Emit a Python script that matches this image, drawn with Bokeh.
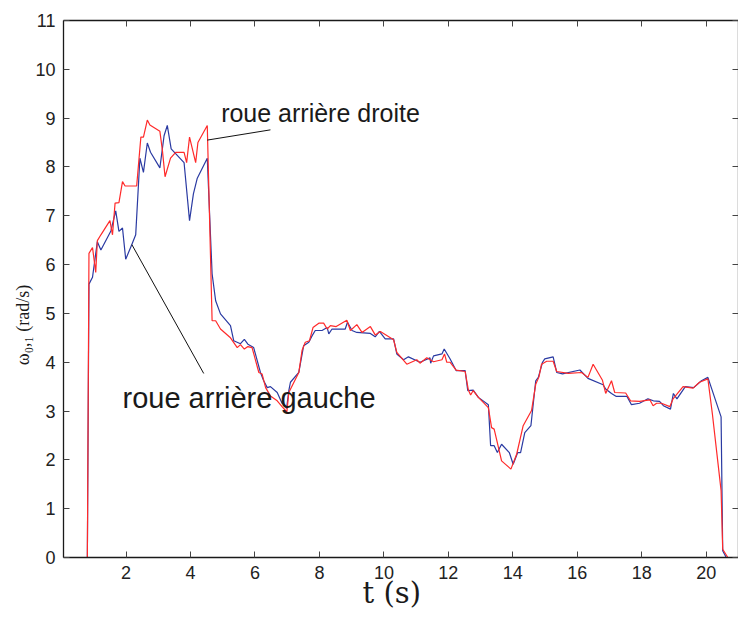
from bokeh.plotting import figure
from bokeh.models import Range1d, LinearAxis, FixedTicker, Label, ColumnDataSource, CustomJSTickFormatter
from bokeh.embed import file_html
from bokeh.resources import INLINE

# ---------------- data ----------------
t_left = [0.06, 0.80, 0.85, 0.96, 1.11, 1.22, 1.53, 1.68, 1.78, 1.89, 1.99, 2.18, 2.30, 2.43, 2.54,
          2.66, 2.76, 3.05, 3.18, 3.28, 3.40, 3.80, 3.97, 4.09, 4.21, 4.52, 4.67, 4.78, 4.93, 5.24,
          5.34, 5.55, 5.67, 5.78, 5.96, 6.17, 6.27, 6.38, 6.48, 6.69, 6.84, 6.92, 6.98, 7.05, 7.10,
          7.36, 7.51, 7.67, 7.77, 7.87, 8.08, 8.24, 8.29, 8.39, 8.80, 8.87, 9.01, 9.16, 9.58, 9.73,
          9.86, 10.04, 10.30, 10.40, 10.61, 10.76, 11.12, 11.43, 11.45, 11.54, 11.80, 11.87, 12.05,
          12.24, 12.52, 12.60, 12.77, 12.93, 13.24, 13.31, 13.42, 13.52, 13.65, 13.89, 14.01, 14.15,
          14.24, 14.37, 14.56, 14.71, 14.79, 14.92, 14.99, 15.25, 15.36, 15.54, 16.08, 16.33, 16.80,
          16.88, 17.06, 17.21, 17.54, 17.68, 17.93, 18.19, 18.36, 18.55, 18.67, 18.89, 18.98, 19.09,
          19.35, 19.61, 19.85, 20.05, 20.46, 20.51, 20.62, 21.0]
w_left = [0, 0, 5.60, 5.74, 6.47, 6.30, 6.69, 7.10, 6.68, 6.75, 6.11, 6.41, 6.61, 8.18, 7.89,
          8.49, 8.30, 7.98, 8.64, 8.85, 8.37, 8.09, 6.90, 7.45, 7.77, 8.18, 5.81, 5.26, 4.99, 4.75,
          4.44, 4.38, 4.47, 4.37, 4.30, 3.79, 3.62, 3.48, 3.50, 3.38, 3.16, 3.13, 3.05, 3.42, 3.59,
          3.79, 4.34, 4.41, 4.54, 4.65, 4.65, 4.71, 4.58, 4.68, 4.68, 4.82, 4.65, 4.61, 4.59, 4.52,
          4.63, 4.48, 4.48, 4.17, 4.05, 4.11, 4.00, 4.09, 3.98, 4.13, 4.17, 4.27, 4.07,
          3.83, 3.83, 3.42, 3.43, 3.28, 3.13, 2.29, 2.29, 2.15, 2.32, 2.15, 1.91, 2.15,
          2.15, 2.56, 2.70, 3.62, 3.69, 4.00, 4.07, 4.11, 3.79, 3.76, 3.84, 3.67, 3.54,
          3.45, 3.36, 3.30, 3.30, 3.13, 3.16, 3.25, 3.21, 3.20, 3.11, 3.04, 3.36, 3.25,
          3.50, 3.48, 3.62, 3.69, 2.88, 0.14, 0, 0]

t_right = [0.06, 0.80, 0.85, 0.96, 1.06, 1.11, 1.22, 1.50, 1.58, 1.66, 1.78, 1.89, 1.97, 2.33, 2.46,
           2.54, 2.66, 2.74, 3.05, 3.13, 3.21, 3.38, 3.54, 3.80, 3.88, 3.97, 4.16, 4.23, 4.52, 4.67,
           4.78, 4.93, 5.24, 5.45, 5.55, 5.67, 5.78, 5.91, 6.12, 6.22, 6.33, 6.48, 6.69, 6.84, 6.99,
           7.05, 7.36, 7.46, 7.56, 7.69, 7.80, 7.98, 8.13, 8.24, 8.34, 8.52, 8.85, 8.96, 9.16, 9.32,
           9.58, 9.73, 9.89, 10.30, 10.40, 10.71, 11.02, 11.12, 11.33, 11.54, 11.80, 11.88, 11.95,
           12.05, 12.24, 12.52, 12.62, 12.69, 12.77, 12.93, 13.24, 13.34, 13.42, 13.65, 13.94, 14.12,
           14.32, 14.58, 14.71, 14.81, 14.89, 15.05, 15.25, 15.36, 15.72, 16.13, 16.33, 16.49, 16.78,
           16.88, 17.06, 17.16, 17.50, 17.65, 17.93, 18.25, 18.35, 18.46, 18.61, 18.87, 18.97, 19.28,
           19.59, 19.79, 20.05, 20.19, 20.46, 20.51, 20.67, 21.0]
w_right = [0, 0, 6.23, 6.35, 5.84, 6.49, 6.61, 6.90, 6.61, 7.26, 7.27, 7.70, 7.61, 7.61, 8.61,
           8.61, 8.96, 8.86, 8.73, 8.33, 7.80, 8.18, 8.30, 8.30, 8.09, 8.61, 8.09, 8.50, 8.85, 4.85,
           4.85, 4.68, 4.50, 4.30, 4.36, 4.27, 4.32, 4.30, 3.79, 3.76, 3.48, 3.31, 3.21, 3.09, 2.98,
           3.38, 3.79, 4.24, 4.41, 4.44, 4.71, 4.80, 4.80, 4.68, 4.75, 4.73, 4.86, 4.65, 4.77, 4.61,
           4.73, 4.56, 4.63, 4.46, 4.20, 3.96, 4.05, 3.98, 4.09, 4.01, 4.05, 4.17, 4.00,
           4.00, 3.84, 3.81, 3.43, 3.33, 3.42, 3.28, 3.07, 2.66, 2.63, 1.98, 1.81, 2.12,
           2.70, 3.01, 3.55, 3.70, 3.96, 4.02, 4.02, 3.81, 3.77, 3.79, 3.69, 3.96, 3.63,
           3.36, 3.62, 3.38, 3.37, 3.21, 3.20, 3.23, 3.11, 3.16, 3.16, 3.09, 3.25, 3.50,
           3.47, 3.59, 3.66, 2.94, 1.37, 0.17, 0, 0]

x_ticks = [2, 4, 6, 8, 10, 12, 14, 16, 18, 20]
y_ticks = [0, 1, 2, 3, 4, 5, 6, 7, 8, 9, 10, 11]

label_left = "roue arrière gauche"
label_right = "roue arrière droite"
x_label = "t (s)"
y_label = "ω₀,₁ (rad/s)"

# annotation pointer lines (from curve to text)
ann_left = dict(x0=2.18, y0=6.41, x1=4.41, y1=3.77)
ann_right = dict(x0=4.52, y0=8.55, x1=6.48, y1=8.76)

NBSP = "\u00a0"

# ---------------- figure ----------------
p = figure(width=738, height=618, output_backend="svg", toolbar_location=None,
           x_range=Range1d(0.06, 21.0), y_range=Range1d(0, 11),
           min_border_left=63, min_border_right=0, min_border_top=20, min_border_bottom=61,
           x_axis_location=None, y_axis_location=None)
p.grid.visible = False
p.outline_line_color = None
p.background_fill_color = "white"
p.border_fill_color = "white"

tick_font = "Liberation Sans"
axis_col = "#1a1a1a"

def style_axis(ax, show_labels):
    ax.axis_line_color = axis_col
    ax.axis_line_width = 1.3
    ax.major_tick_in = 6
    ax.major_tick_out = 0
    ax.minor_tick_in = 0
    ax.minor_tick_out = 0
    ax.major_tick_line_color = "#444444"
    ax.major_tick_line_width = 1
    if show_labels:
        ax.major_label_text_font = tick_font
        ax.major_label_text_font_size = "18px"
        ax.major_label_text_color = "#222222"
        ax.major_label_standoff = 8
    else:
        ax.formatter = CustomJSTickFormatter(code="return ''")
        ax.major_label_text_font_size = "0px"
        ax.major_label_standoff = 0

xb = LinearAxis(ticker=FixedTicker(ticks=x_ticks))
style_axis(xb, True)
xb.axis_label = x_label + NBSP * 2
xb.axis_label_text_font = "DejaVu Serif"
xb.axis_label_text_font_style = "normal"
xb.axis_label_text_font_size = "29px"
xb.axis_label_text_color = "#1a1a1a"
xb.axis_label_standoff = -6
p.add_layout(xb, "below")

yl = LinearAxis(ticker=FixedTicker(ticks=y_ticks))
style_axis(yl, True)
p.add_layout(yl, "left")

# secondary left axis carrying only the y title
ylab = LinearAxis(ticker=FixedTicker(ticks=[]))
ylab.axis_line_color = None
ylab.major_tick_in = 0
ylab.major_tick_out = 0
ylab.minor_tick_in = 0
ylab.minor_tick_out = 0
ylab.major_label_standoff = 0
ylab.formatter = CustomJSTickFormatter(code="return ''")
ylab.axis_label = y_label + NBSP * 16
ylab.axis_label_text_font = "Liberation Serif"
ylab.axis_label_text_font_style = "normal"
ylab.axis_label_text_font_size = "18px"
ylab.axis_label_text_color = "#1a1a1a"
ylab.axis_label_standoff = 0
p.add_layout(ylab, "left")

xt = LinearAxis(ticker=FixedTicker(ticks=x_ticks))
style_axis(xt, False)
p.add_layout(xt, "above")
yr = LinearAxis(ticker=FixedTicker(ticks=y_ticks))
style_axis(yr, False)
p.add_layout(yr, "right")

src_l = ColumnDataSource(dict(t=t_left, w=w_left))
src_r = ColumnDataSource(dict(t=t_right, w=w_right))
p.line("t", "w", source=src_l, line_color="#2a3aa2", line_width=1.2)
p.line("t", "w", source=src_r, line_color="#ff2a2a", line_width=1.2)

p.segment(x0=[ann_left["x0"], ann_right["x0"]], y0=[ann_left["y0"], ann_right["y0"]],
          x1=[ann_left["x1"], ann_right["x1"]], y1=[ann_left["y1"], ann_right["y1"]],
          line_color="#111111", line_width=1)

p.add_layout(Label(x=4.95, y=9.11, text=label_right, text_font=tick_font,
                   text_font_size="25px", text_color="#1a1a1a",
                   text_align="left", text_baseline="alphabetic"))
p.add_layout(Label(x=1.89, y=3.27, text=label_left, text_font=tick_font,
                   text_font_size="29px", text_color="#1a1a1a",
                   text_align="left", text_baseline="alphabetic"))

open("out.html", "w").write(file_html(p, INLINE))
